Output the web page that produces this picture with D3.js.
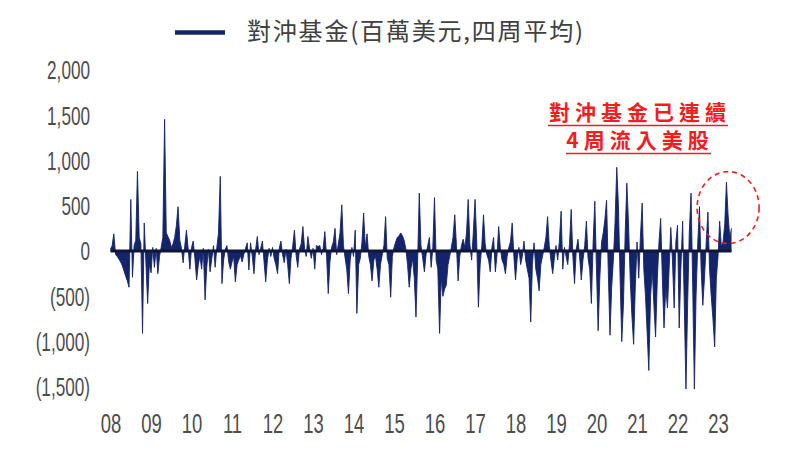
<!DOCTYPE html>
<html>
<head>
<meta charset="utf-8">
<script src="https://cdn.jsdelivr.net/npm/d3@7"></script>
<style>
  html, body { margin: 0; padding: 0; background: #ffffff; }
  svg { display: block; }
</style>
</head>
<body>
<svg id="chart" width="800" height="459"></svg>
<script>
// ---- DATA (semi-monthly readings, millions USD, 4-week average) ----
const flow2008 = [20, 60, 190, -40, -60, -90, -120, -160, -220, -280, -330, -400, 570, -290, 60, 120, 880, 150, 80, -910, 310, -120, -580, -150];
const flow2009 = [-240, 40, -180, 30, -250, -60, 40, 150, 1455, 200, 160, 120, 40, 80, 150, 280, 490, 120, 30, -130, 60, 230, 20, -200];
const flow2010 = [40, 110, -80, -320, -150, -60, -200, 30, -540, -180, 20, -230, -80, 60, -180, 40, 200, 825, -360, -100, 20, 60, -120, -200];
const flow2011 = [-120, -60, -340, -150, -100, -50, -120, -40, 30, 90, -210, 90, -60, -250, 20, 160, -40, 30, 110, -120, -340, -100, 30, -60];
const flow2012 = [40, -80, -150, -250, 30, 110, -40, -130, 20, -150, -360, -80, 60, 230, -50, -180, 20, 80, 270, 30, -60, 160, 20, -80];
const flow2013 = [30, -200, 60, 50, 60, -40, 30, 215, -60, -470, -120, 40, 100, 250, -40, 80, 200, 510, 60, -80, -200, -470, -100, 40];
const flow2014 = [-60, 230, -690, -150, -80, 100, 420, 40, 190, -60, -150, -330, -100, -60, -200, -400, -150, -40, 60, 380, -80, -150, -510, -60];
const flow2015 = [40, 100, 150, 170, 200, 170, 120, 30, -150, -400, -200, -80, -300, -730, -100, 640, 60, -80, -230, -40, 60, 150, -180, 40];
const flow2016 = [590, -100, -200, -910, -300, -500, -420, -380, -150, -60, 40, 150, 400, 60, -330, -60, 60, 130, 40, 200, 570, 80, -100, 200];
const flow2017 = [570, 100, -620, -150, 60, 400, 80, -40, -100, -230, 40, 150, -230, -40, 270, 30, -100, -150, -250, -60, 40, 100, 310, -60];
const flow2018 = [-320, -80, 40, -150, -60, 110, -100, -200, -300, -785, -150, 90, -200, -300, -440, -150, -60, 40, 150, 380, 60, -100, -250, -80];
const flow2019 = [60, -100, 100, 440, -200, 40, -60, -150, 80, 460, -60, -360, 20, 130, -60, -320, -100, 60, 330, -80, -200, -580, 100, 550];
const flow2020 = [-200, -880, -300, 100, 200, 350, 560, -200, -930, -400, -100, 300, 925, 500, -300, -1000, -600, 200, 750, 300, -300, -700, -1030, -400];
const flow2021 = [100, -300, 150, 530, -200, -500, -900, -1320, -500, -200, -600, -950, -300, 100, 360, -300, -850, -400, -630, -200, 260, -100, -630, 100];
const flow2022 = [285, -850, -200, 330, -600, -1525, -600, 200, 640, -400, -1525, -500, 100, 490, -200, -600, -300, 100, 430, -200, -500, -740, -1060, -300];
const flow2023 = [-60, 330, 50, 100, 300, 760, 400, 150, 250];

const flowYears = [2008, 2009, 2010, 2011, 2012, 2013, 2014, 2015, 2016, 2017, 2018, 2019, 2020, 2021, 2022, 2023];
const xTickLabels = ["08", "09", "10", "11", "12", "13", "14", "15", "16", "17", "18", "19", "20", "21", "22", "23"];
const yTickValues = [2000, 1500, 1000, 500, 0, -500, -1000, -1500];
const legendLabel = "對沖基金(百萬美元,四周平均)";
const noteLines = ["對沖基金已連續", "4周流入美股"];

// ---- build series ----
const flowByYear = [flow2008, flow2009, flow2010, flow2011, flow2012, flow2013, flow2014, flow2015,
                    flow2016, flow2017, flow2018, flow2019, flow2020, flow2021, flow2022, flow2023];
const series = [];
flowByYear.forEach((vals, k) => {
  const yr = flowYears[k];
  vals.forEach((v, i) => {
    series.push({ date: d3.timeDay.offset(new Date(yr, 0, 1), Math.round(i * 365 / 24)), value: v });
  });
});

// ---- scales ----
const svg = d3.select("#chart");
const navy = "#14246a";

const x = d3.scaleTime()
  .domain([new Date(2008, 0, 1), new Date(2023, 0, 1)])
  .range([110.5, 718]);
const y = d3.scaleLinear()
  .domain([-1500, 2000])
  .range([386.8, 70]);

// ---- area ----
const area = d3.area()
  .x(d => x(d.date))
  .y0(y(0))
  .y1(d => y(d.value))
  .curve(d3.curveLinear);
const line = d3.line()
  .x(d => x(d.date))
  .y(d => y(d.value))
  .curve(d3.curveLinear);

svg.append("path").datum(series)
  .attr("d", area)
  .attr("fill", navy);
svg.append("path").datum(series)
  .attr("d", line)
  .attr("fill", "none")
  .attr("stroke", navy)
  .attr("stroke-width", 0.9)
  .attr("stroke-linejoin", "round");

// zero line
const xExt = d3.extent(series, d => d.date);
svg.append("line")
  .attr("x1", x(xExt[0])).attr("x2", x(xExt[1]))
  .attr("y1", y(0)).attr("y2", y(0))
  .attr("stroke", "#111634").attr("stroke-width", 3);

// ---- y axis labels ----
const fmtY = v => v < 0 ? "(" + d3.format(",")(-v) + ")" : d3.format(",")(v);
const yAxis = d3.axisLeft(y).tickValues(yTickValues).tickFormat(fmtY).tickSize(0).tickPadding(0);
const yg = svg.append("g").attr("transform", "translate(90,0)").call(yAxis);
yg.select(".domain").remove();
yg.selectAll("text")
  .attr("fill", "#4d4d4d")
  .attr("font-family", "'Liberation Sans', Arial, sans-serif")
  .attr("font-size", 26)
  .attr("x", 0)
  .attr("dy", "0.34em")
  .attr("transform", "scale(0.66,1)");

// ---- x axis labels ----
const xTicks = xTickLabels.map((l, i) => new Date(flowYears[i], 0, 1));
const xAxis = d3.axisBottom(x).tickValues(xTicks).tickFormat((d, i) => xTickLabels[i]).tickSize(0).tickPadding(0);
const xg = svg.append("g").attr("transform", "translate(0,423)").call(xAxis);
xg.select(".domain").remove();
xg.selectAll("text")
  .attr("fill", "#4d4d4d")
  .attr("font-family", "'Liberation Sans', Arial, sans-serif")
  .attr("font-size", 28)
  .attr("y", 0)
  .attr("dy", "0.36em")
  .attr("transform", "scale(0.66,1)");

// ---- legend ----
svg.append("line")
  .attr("x1", 175).attr("x2", 225).attr("y1", 32.5).attr("y2", 32.5)
  .attr("stroke", navy).attr("stroke-width", 4.5);
svg.append("text")
  .attr("x", 247).attr("y", 40)
  .attr("font-family", "'Noto Sans CJK TC', 'Noto Sans CJK SC', sans-serif")
  .attr("font-size", 24)
  .attr("letter-spacing", "1.8px")
  .attr("fill", "#404040")
  .text(legendLabel);

// ---- annotation ----
const note = svg.append("g");
const noteY = [120, 148];
noteLines.forEach((t, i) => {
  note.append("text")
    .attr("x", 640).attr("y", noteY[i])
    .attr("text-anchor", "middle")
    .attr("font-family", "'Noto Sans CJK TC', 'Noto Sans CJK SC', sans-serif")
    .attr("font-weight", "bold")
    .attr("font-size", 21)
    .attr("letter-spacing", "5px")
    .attr("fill", "#f41c1c")
    .text(t);
});
note.append("line").attr("x1", 548).attr("x2", 728).attr("y1", 125.5).attr("y2", 125.5)
  .attr("stroke", "#f41c1c").attr("stroke-width", 1.6);
note.append("line").attr("x1", 566).attr("x2", 711).attr("y1", 153.5).attr("y2", 153.5)
  .attr("stroke", "#f41c1c").attr("stroke-width", 1.6);

// dashed highlight ellipse around latest weeks
svg.append("ellipse")
  .attr("cx", x(series[series.length - 3].date)).attr("cy", y(480))
  .attr("rx", 31).attr("ry", 36)
  .attr("fill", "none")
  .attr("stroke", "#f41c1c").attr("stroke-width", 1.6)
  .attr("stroke-dasharray", "5,4");
</script>
</body>
</html>
